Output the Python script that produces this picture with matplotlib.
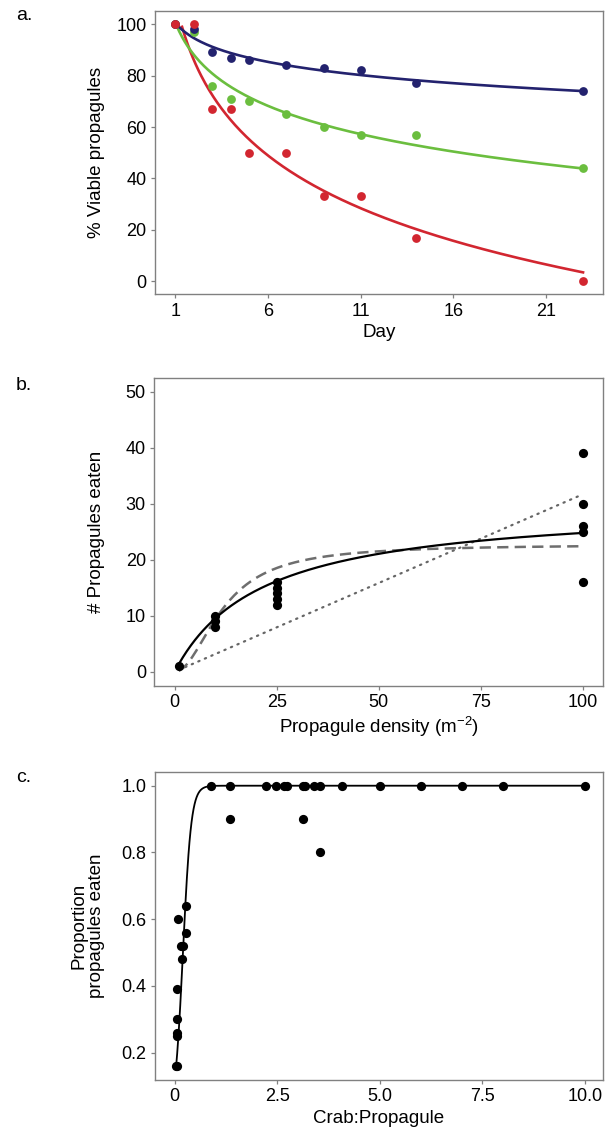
import numpy as np
import matplotlib
matplotlib.use('Agg')
from matplotlib import pyplot as plt

plt.rcParams['font.family'] = ['Liberation Sans', 'DejaVu Sans']
plt.rcParams['mathtext.default'] = 'regular'

# --- a. viability over time ---
days = [1, 2, 3, 4, 5, 7, 9, 11, 14, 23]
viable_blue = [100, 98, 89, 87, 86, 84, 83, 82, 77, 74]
viable_green = [100, 97, 76, 71, 70, 65, 60, 57, 57, 44]
viable_red = [100, 100, 67, 67, 50, 50, 33, 33, 17, 0]

# --- b. functional response ---
density = [1, 10, 10, 10, 25, 25, 25, 25, 25, 100, 100, 100, 100, 100]
eaten = [1, 8, 9, 10, 12, 13, 14, 15, 16, 16, 25, 26, 30, 39]
# fitted model parameters
type1_slope = 0.317
type2_a, type2_h = 1.40, 0.0332
type3_a, type3_h = 0.16, 0.044

# --- c. crab:propagule ratio ---
ratio = [0.04, 0.05, 0.07, 0.07, 0.07, 0.07, 0.09, 0.15, 0.21, 0.17, 0.29, 0.29,
         0.90, 1.35, 1.35, 2.22, 2.48, 2.68, 2.75, 3.13, 3.13, 3.19, 3.39, 3.55, 3.55,
         4.08, 5.0, 6.0, 7.0, 8.0, 10.0]
prop_eaten = [0.16, 0.16, 0.25, 0.26, 0.30, 0.39, 0.60, 0.52, 0.52, 0.48, 0.64, 0.56,
              1.0, 1.0, 0.9, 1.0, 1.0, 1.0, 1.0, 1.0, 0.9, 1.0, 1.0, 1.0, 0.8,
              1.0, 1.0, 1.0, 1.0, 1.0, 1.0]
logit_b0, logit_b1 = -2.05, 10.0

spine_clr = '#808080'
RED, GREEN, BLUE = '#D22630', '#6BBE3F', '#23226E'
LBL = 13.5


def style_axes(ax):
    for s in ax.spines.values():
        s.set_color(spine_clr)
        s.set_linewidth(1.0)
    ax.tick_params(direction='out', length=3, width=0.9, color=spine_clr,
                   labelsize=13, pad=3)


fig = plt.figure(figsize=(6.12, 11.34), dpi=100)

### a ###
ax = fig.add_axes([0.253, 0.7405, 0.733, 0.2496])
style_axes(ax)
grid = np.linspace(1, 23, 300)
for vals, clr in ((viable_red, RED), (viable_green, GREEN), (viable_blue, BLUE)):
    b, a = np.polyfit(np.log(days), vals, 1)  # y = a + b*ln(day)
    fit = a + b * np.log(grid)
    fit = np.where(fit <= 100, fit, np.nan)
    ax.plot(grid, fit, color=clr, lw=1.9, zorder=2)
for vals, clr in ((viable_green, GREEN), (viable_blue, BLUE), (viable_red, RED)):
    ax.scatter(days, vals, s=40, color=clr, zorder=3, linewidths=0)
ax.set_xlim(-0.1, 24.1)
ax.set_ylim(-5, 105)
ax.set_xticks([1, 6, 11, 16, 21])
ax.set_yticks([0, 20, 40, 60, 80, 100])
ax.set_xlabel('Day', fontsize=LBL, labelpad=3)
ax.set_ylabel('% Viable propagules', fontsize=LBL)
ax.yaxis.set_label_coords(-0.111, 0.5)

### b ###
ax = fig.add_axes([0.252, 0.3953, 0.734, 0.2716])
style_axes(ax)
x = np.linspace(1, 100, 300)
ax.plot(x, type1_slope * x, color='#666666', lw=1.6, ls=(0, (0.6, 2.6)),
        dash_capstyle='round')
ax.plot(x, type3_a * x ** 2 / (1 + type3_a * type3_h * x ** 2), color='#6e6e6e',
        lw=1.8, ls=(0, (4.5, 2.5)))
ax.plot(x, type2_a * x / (1 + type2_a * type2_h * x), color='black', lw=1.6)
ax.scatter(density, eaten, s=44, color='black', zorder=3, linewidths=0)
ax.set_xlim(-5, 105)
ax.set_ylim(-2.5, 52.5)
ax.set_xticks([0, 25, 50, 75, 100])
ax.set_yticks([0, 10, 20, 30, 40, 50])
ax.set_xlabel('Propagule density (m$^{-2}$)', fontsize=LBL, labelpad=3)
ax.set_ylabel('# Propagules eaten', fontsize=LBL)
ax.yaxis.set_label_coords(-0.11, 0.5)

### c ###
ax = fig.add_axes([0.253, 0.0476, 0.732, 0.2719])
style_axes(ax)
x = np.linspace(min(ratio), 10, 800)
ax.plot(x, 1 / (1 + np.exp(-(logit_b0 + logit_b1 * x))), color='black', lw=1.3)
ax.scatter(ratio, prop_eaten, s=44, color='black', zorder=3, linewidths=0)
ax.set_xlim(-0.48, 10.44)
ax.set_ylim(0.118, 1.042)
ax.set_xticks([0, 2.5, 5.0, 7.5, 10.0])
ax.set_xticklabels(['0', '2.5', '5.0', '7.5', '10.0'])
ax.set_yticks([0.2, 0.4, 0.6, 0.8, 1.0])
ax.set_xlabel('Crab:Propagule', fontsize=LBL, labelpad=3)
ax.set_ylabel('Proportion\npropagules eaten', fontsize=LBL, linespacing=1.05)
ax.yaxis.set_label_coords(-0.111, 0.5)

# panel letters
for lbl, ypx in (('a.', 16), ('b.', 385), ('c.', 777)):
    fig.text(16 / 612, 1 - ypx / 1134, lbl, fontsize=14, va='center', ha='left')

fig.savefig('out.png', dpi=100)
